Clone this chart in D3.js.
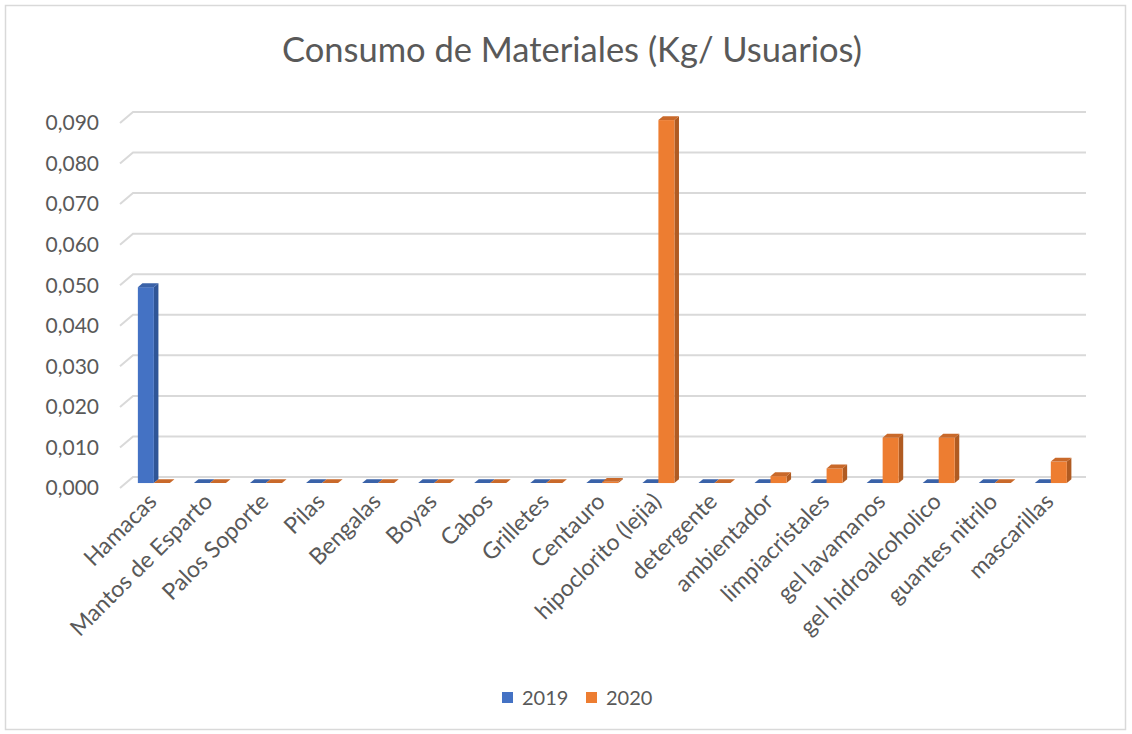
<!DOCTYPE html>
<html>
<head>
<meta charset="utf-8">
<script src="https://cdn.jsdelivr.net/npm/d3@7"></script>
<style>
  body { margin: 0; background: #fff; }
  text { font-family: Lato, "Open Sans", sans-serif; fill: #595959; }
</style>
</head>
<body>
<svg id="svg" width="1132" height="734"></svg>
<script>
// chart data
var categories = ["Hamacas", "Mantos de Esparto", "Palos Soporte", "Pilas", "Bengalas", "Boyas",
  "Cabos", "Grilletes", "Centauro", "hipoclorito (lejia)", "detergente", "ambientador",
  "limpiacristales", "gel lavamanos", "gel hidroalcoholico", "guantes nitrilo", "mascarillas"];
var series = ["2019", "2020"];
var values2019 = [0.0483, 0, 0, 0, 0, 0, 0, 0, 0, 0, 0, 0, 0, 0, 0, 0, 0];
var values2020 = [0, 0, 0, 0, 0, 0, 0, 0, 0.0003, 0.0895, 0, 0.0017, 0.0036, 0.0112, 0.0112, 0, 0.0053];
var ticks = [0, 0.01, 0.02, 0.03, 0.04, 0.05, 0.06, 0.07, 0.08, 0.09];

var colors = {
  "2019": { front: "#4472C4", side: "#2F5597", top: "#3A62A8" },
  "2020": { front: "#ED7D31", side: "#B05B22", top: "#C9692A" }
};

var svg = d3.select("#svg");

// depth of the 3d floor (front edge -> back wall)
var depthX = 13, depthY = 11;
// bars sit between these depth fractions
var dFront = 0.45, dBack = 0.8;

var x0 = d3.scaleBand().domain(categories).range([120, 1073]);
var x1 = d3.scaleBand().domain(series).range([0, x0.bandwidth()]).paddingOuter(0.75);
var y = d3.scaleLinear().domain([0, 0.09]).range([488, 123]);

// border
svg.append("rect")
  .attr("x", 5.5).attr("y", 5.5)
  .attr("width", 1120).attr("height", 724)
  .attr("fill", "none").attr("stroke", "#D9D9D9").attr("stroke-width", 1.5);

// title
svg.append("text")
  .attr("x", 572).attr("y", 62)
  .attr("text-anchor", "middle")
  .style("font-size", "34.5px")
  .text("Consumo de Materiales (Kg/ Usuarios)");

// gridlines on the back wall + short diagonal on the side
var grid = svg.append("g").attr("stroke", "#D9D9D9").attr("stroke-width", 2).attr("fill", "none");
grid.selectAll("path").data(ticks).enter().append("path")
  .attr("d", function(d) {
    var yy = y(d);
    return "M120," + yy + "L" + (120 + depthX) + "," + (yy - depthY) + "L1086," + (yy - depthY);
  });

// y tick labels
svg.append("g").selectAll("text").data(ticks).enter().append("text")
  .attr("x", 99)
  .attr("y", function(d) { return y(d); })
  .attr("dy", "0.35em")
  .attr("text-anchor", "end")
  .style("font-size", "21px")
  .text(function(d) { return d3.format(".3f")(d).replace(".", ","); });

// bars
var rows = [];
categories.forEach(function(c, i) {
  rows.push({ cat: c, s: "2019", v: values2019[i] });
  rows.push({ cat: c, s: "2020", v: values2020[i] });
});

var ox = depthX * dFront, oy = depthY * dFront;
var dx = depthX * (dBack - dFront), dy = depthY * (dBack - dFront);

var bars = svg.append("g").selectAll("g").data(rows).enter().append("g");

bars.each(function(d) {
  var g = d3.select(this);
  var xl = x0(d.cat) + x1(d.s) + ox;
  var xr = xl + x1.bandwidth();
  var yt = y(d.v) - oy;
  var yb = y(0) - oy;
  var col = colors[d.s];
  if (yb - yt > 0.5) {
    g.append("path")
      .attr("d", "M" + xr + "," + yt + "L" + (xr + dx) + "," + (yt - dy) + "L" + (xr + dx) + "," + (yb - dy) + "L" + xr + "," + yb + "Z")
      .attr("fill", col.side);
    g.append("rect")
      .attr("x", xl).attr("y", yt)
      .attr("width", xr - xl).attr("height", yb - yt)
      .attr("fill", col.front);
  }
  g.append("path")
    .attr("d", "M" + xl + "," + yt + "L" + xr + "," + yt + "L" + (xr + dx) + "," + (yt - dy) + "L" + (xl + dx) + "," + (yt - dy) + "Z")
    .attr("fill", col.top);
});

// category labels
svg.append("g").selectAll("text").data(categories).enter().append("text")
  .attr("transform", function(d) {
    return "translate(" + (x0(d) + x0.bandwidth() / 2 + 10) + ",503) rotate(-45)";
  })
  .attr("text-anchor", "end")
  .style("font-size", "23px")
  .text(function(d) { return d; });

// legend
var legend = svg.append("g").selectAll("g").data(series).enter().append("g")
  .attr("transform", function(d, i) { return "translate(" + (502 + i * 84) + ",692)"; });
legend.append("rect")
  .attr("width", 11).attr("height", 11)
  .attr("fill", function(d) { return colors[d].front; });
legend.append("text")
  .attr("x", 20).attr("y", 6)
  .attr("dy", "0.35em")
  .style("font-size", "20px")
  .text(function(d) { return d; });
</script>
</body>
</html>
